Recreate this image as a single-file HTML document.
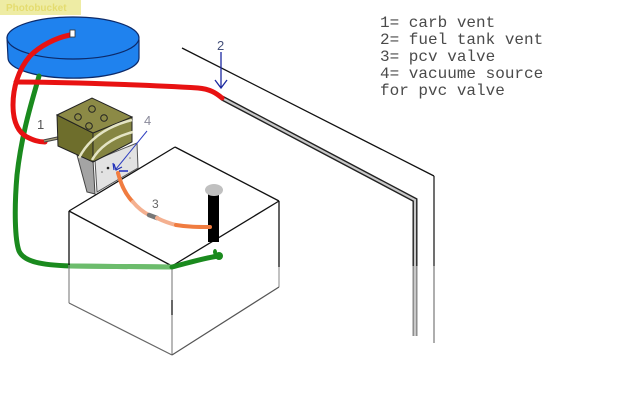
<!DOCTYPE html>
<html><head><meta charset="utf-8"><style>
html,body{margin:0;padding:0;background:#fff;}
svg{display:block;}
</style></head><body>
<svg width="617" height="405" viewBox="0 0 617 405" xmlns="http://www.w3.org/2000/svg">
<rect width="617" height="405" fill="#fff"/>
<!-- yellow tag -->
<rect x="0" y="0" width="81" height="15" fill="#eeeca4"/>
<text x="6" y="11" font-family="Liberation Sans, sans-serif" font-size="10" font-weight="bold" fill="#e4dc70">Photobucket</text>

<!-- firewall lines -->
<polyline points="182,48 434,176" fill="none" stroke="#111" stroke-width="1.3"/>
<line x1="434" y1="176" x2="434" y2="266" stroke="#222" stroke-width="1.3"/>
<line x1="434" y1="266" x2="434" y2="343" stroke="#777" stroke-width="1.2"/>
<!-- pipe -->
<polyline points="222,98 415,200 415,266" fill="none" stroke="#222" stroke-width="5"/>
<polyline points="415,266 415,336" fill="none" stroke="#888" stroke-width="5"/>
<polyline points="222,98 415,200 415,336" fill="none" stroke="#c8c8c8" stroke-width="2.2"/>

<!-- blue tank -->
<path d="M7,38 L8,58 A65,20 0 0 0 139,58 L139,40 Z" fill="#1f82ee" stroke="#0c2a6a" stroke-width="1.2"/>
<ellipse cx="73" cy="38" rx="66" ry="21" fill="#1f82ee" stroke="#0c2a6a" stroke-width="1.2"/>

<!-- green hose -->
<path d="M39,76 C34,95 22,130 17,175 C14,210 15,240 19,251 C24,262 42,265 70,266" fill="none" stroke="#1a8a1e" stroke-width="5" stroke-linecap="round"/>
<path d="M70,266 L172,267" fill="none" stroke="#6cbc6c" stroke-width="5"/>

<!-- red hoses -->
<path d="M70,35 C55,38 40,46 30,56 C18,70 13,88 13,105 C13,122 18,132 27,137 C33,140 38,142 45,142" fill="none" stroke="#e81212" stroke-width="5" stroke-linecap="round"/>
<path d="M16,82 C60,82 150,85 198,88 C210,89 216,93 222,98" fill="none" stroke="#e81212" stroke-width="5" stroke-linecap="round"/>
<rect x="70" y="30" width="5" height="7" fill="#fff" stroke="#333" stroke-width="0.8"/>

<!-- carb vent tube -->
<line x1="44" y1="141" x2="72" y2="135" stroke="#444" stroke-width="3.4"/>
<line x1="44" y1="141" x2="72" y2="135" stroke="#a49c78" stroke-width="1.4"/>

<!-- adapter below carb -->
<polygon points="77,155 93,160 95,194 87,192" fill="#a4a4a4" stroke="#444" stroke-width="1"/>
<polygon points="95,160 137,143 138,168 97,192" fill="#e2e2e2" stroke="#555" stroke-width="1"/>
<circle cx="108" cy="168" r="1.3" fill="#222"/>
<circle cx="102" cy="172" r="0.8" fill="#666"/>
<circle cx="130" cy="158" r="0.8" fill="#888"/>

<!-- carb block -->
<polygon points="57,115 93,133 93,162 58,146" fill="#6e6e2c" stroke="#222" stroke-width="1"/>
<polygon points="93,133 132,117 132,142 93,162" fill="#858542" stroke="#222" stroke-width="1"/>
<polygon points="57,115 92,98 132,117 93,133" fill="#8c8a46" stroke="#222" stroke-width="1"/>
<circle cx="92" cy="109" r="3.3" fill="none" stroke="#222" stroke-width="1"/>
<circle cx="78" cy="117" r="3.3" fill="none" stroke="#222" stroke-width="1"/>
<circle cx="104" cy="118" r="3.3" fill="none" stroke="#222" stroke-width="1"/>
<circle cx="89" cy="126" r="3.3" fill="none" stroke="#222" stroke-width="1"/>
<!-- watermark arcs -->
<path d="M79,158 C88,140 105,127 132,120" fill="none" stroke="#e4e4c4" stroke-width="2.5"/>
<path d="M92,160 C100,146 114,137 133,132" fill="none" stroke="#e4e4c4" stroke-width="2.5"/>

<!-- box -->
<polygon points="69,211 175,147 279,201 172,266" fill="#fff" stroke="none"/>
<line x1="69" y1="211" x2="175" y2="147" stroke="#111" stroke-width="1.3"/>
<line x1="175" y1="147" x2="279" y2="201" stroke="#111" stroke-width="1.3"/>
<line x1="279" y1="201" x2="172" y2="266" stroke="#111" stroke-width="1.3"/>
<line x1="172" y1="266" x2="69" y2="211" stroke="#111" stroke-width="1.3"/>
<line x1="69" y1="211" x2="69" y2="265" stroke="#111" stroke-width="1.3"/>
<line x1="69" y1="265" x2="69" y2="303" stroke="#888" stroke-width="1.2"/>
<line x1="172" y1="266" x2="172" y2="355" stroke="#888" stroke-width="1.2"/>
<line x1="172" y1="300" x2="172" y2="315" stroke="#222" stroke-width="1.3"/>
<line x1="279" y1="201" x2="279" y2="267" stroke="#111" stroke-width="1.3"/>
<line x1="279" y1="267" x2="279" y2="287" stroke="#999" stroke-width="1.2"/>
<line x1="69" y1="303" x2="172" y2="355" stroke="#666" stroke-width="1.2"/>
<line x1="172" y1="355" x2="279" y2="287" stroke="#555" stroke-width="1.2"/>

<!-- green over box -->
<path d="M70,266 L172,267" fill="none" stroke="#6cbc6c" stroke-width="5"/>
<path d="M172,267 C188,263 200,259 218,256" fill="none" stroke="#1a8a1e" stroke-width="5" stroke-linecap="round"/>
<ellipse cx="219" cy="256" rx="4" ry="4" fill="#1a8a1e"/>
<ellipse cx="215" cy="252" rx="2" ry="3" fill="#1a8a1e"/>

<!-- black post -->
<rect x="208" y="192" width="11" height="50" fill="#000"/>
<ellipse cx="214" cy="190" rx="9" ry="6" fill="#c0c0c0"/>

<!-- orange hose -->
<path d="M118,173 C121,185 126,195 133,202" fill="none" stroke="#f07c40" stroke-width="4" stroke-linecap="round"/>
<path d="M133,202 C138,208 143,212 149,215" fill="none" stroke="#f4b090" stroke-width="4" stroke-linecap="round"/>
<path d="M149,215 L157,218" fill="none" stroke="#777" stroke-width="4.5" stroke-linecap="round"/>
<path d="M157,218 C163,221 168,223 176,225" fill="none" stroke="#f4b090" stroke-width="4" stroke-linecap="round"/>
<path d="M176,225 C188,227 198,227 210,227" fill="none" stroke="#f07c40" stroke-width="4" stroke-linecap="round"/>

<!-- blue arrow 4 -->
<line x1="147" y1="131" x2="116" y2="169" stroke="#3040c0" stroke-width="1"/>
<path d="M114,164 L116,170 L122,167" fill="none" stroke="#2030b0" stroke-width="1.2"/>
<line x1="119" y1="171" x2="128" y2="171" stroke="#2030c0" stroke-width="1.5"/>
<line x1="113" y1="163" x2="114" y2="170" stroke="#2030c0" stroke-width="1.2"/>

<!-- blue arrow 2 -->
<line x1="221" y1="52" x2="221" y2="88" stroke="#1c2aa0" stroke-width="1.3"/>
<path d="M215,80 L221,88 L227,80" fill="none" stroke="#1c2aa0" stroke-width="1.3"/>

<!-- labels -->
<text x="37" y="129" font-family="Liberation Sans, sans-serif" font-size="13" fill="#555">1</text>
<text x="217" y="50" font-family="Liberation Sans, sans-serif" font-size="13" fill="#44507a">2</text>
<text x="152" y="208" font-family="Liberation Sans, sans-serif" font-size="12" fill="#666">3</text>
<text x="144" y="125" font-family="Liberation Sans, sans-serif" font-size="13" fill="#8a8a9a">4</text>

<!-- legend -->
<g font-family="Liberation Mono, monospace" font-size="16" fill="#4a4a4a">
<text x="380" y="27">1= carb vent</text>
<text x="380" y="44">2= fuel tank vent</text>
<text x="380" y="61">3= pcv valve</text>
<text x="380" y="78">4= vacuume source</text>
<text x="380" y="95">for pvc valve</text>
</g>
</svg>
</body></html>
